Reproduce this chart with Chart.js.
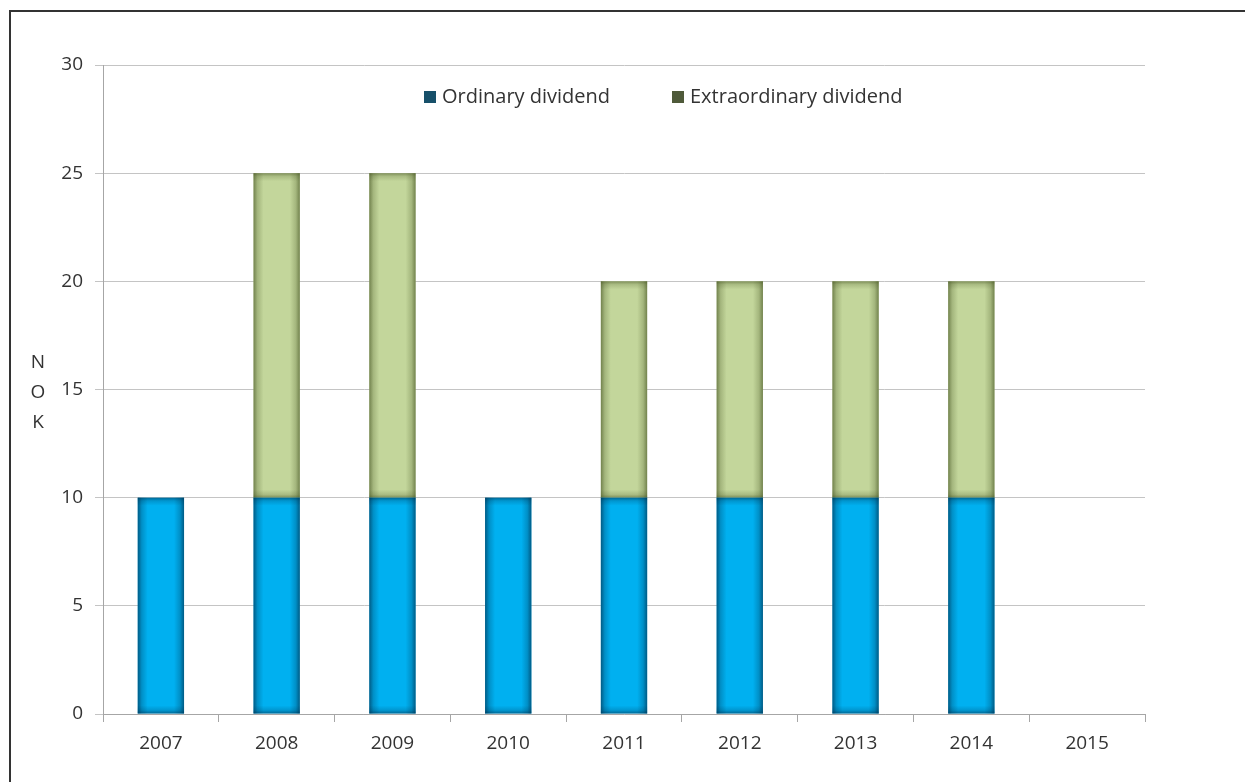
<!DOCTYPE html>
<html>
<head>
<meta charset="utf-8">
<script src="https://cdn.jsdelivr.net/npm/chart.js@4.4.1/dist/chart.umd.min.js"></script>
<style>
  html, body { margin: 0; padding: 0; background: #fff; overflow: hidden; }
  #wrap { position: relative; width: 1245px; height: 782px; }
  #frame {
    position: absolute; left: 9px; top: 10px; width: 1400px; height: 900px;
    border-left: 2px solid #333; border-top: 2px solid #333;
  }
  #chart { position: absolute; left: 0; top: 0; }
</style>
</head>
<body>
<div id="wrap">
  <div id="frame"></div>
  <canvas id="chart" width="1245" height="782"></canvas>
</div>
<script>
const years = ["2007", "2008", "2009", "2010", "2011", "2012", "2013", "2014", "2015"];
const ordinaryDividend = [10, 10, 10, 10, 10, 10, 10, 10, null];
const extraordinaryDividend = [null, 15, 15, null, 10, 10, 10, 10, null];
const yTicks = [0, 5, 10, 15, 20, 25, 30];
const seriesLabels = ["Ordinary dividend", "Extraordinary dividend"];

const barColors = ["#00b0f0", "#c3d69b"];
const edgeColors = ["rgba(0,45,75,", "rgba(70,85,35,"];
const legendColors = ["#17506a", "#4f5a3a"];
const textColor = "#333333";
const fontFamily = "'Open Sans', 'Noto Sans', sans-serif";

// darker edges on every bar, like the Excel inner shadow
const bevelPlugin = {
  id: "bevel",
  afterDatasetDraw(chart, args) {
    const ctx = chart.ctx;
    const edge = edgeColors[args.index];
    args.meta.data.forEach((bar) => {
      const p = bar.getProps(["x", "y", "base", "width"], true);
      const left = p.x - p.width / 2;
      const right = p.x + p.width / 2;
      const top = Math.min(p.y, p.base);
      const bottom = Math.max(p.y, p.base);
      if (bottom - top < 1 || isNaN(top)) return;
      const d = 10;
      ctx.save();
      let g = ctx.createLinearGradient(left, 0, left + d, 0);
      g.addColorStop(0, edge + "0.65)");
      g.addColorStop(0.4, edge + "0.25)");
      g.addColorStop(1, edge + "0)");
      ctx.fillStyle = g;
      ctx.fillRect(left, top, d, bottom - top);
      g = ctx.createLinearGradient(right, 0, right - d, 0);
      g.addColorStop(0, edge + "0.65)");
      g.addColorStop(0.4, edge + "0.25)");
      g.addColorStop(1, edge + "0)");
      ctx.fillStyle = g;
      ctx.fillRect(right - d, top, d, bottom - top);
      const dv = 8;
      g = ctx.createLinearGradient(0, top, 0, top + dv);
      g.addColorStop(0, edge + "0.55)");
      g.addColorStop(0.4, edge + "0.2)");
      g.addColorStop(1, edge + "0)");
      ctx.fillStyle = g;
      ctx.fillRect(left, top, p.width, dv);
      g = ctx.createLinearGradient(0, bottom, 0, bottom - dv);
      g.addColorStop(0, edge + "0.55)");
      g.addColorStop(0.4, edge + "0.2)");
      g.addColorStop(1, edge + "0)");
      ctx.fillStyle = g;
      ctx.fillRect(left, bottom - dv, p.width, dv);
      ctx.restore();
    });
  },
};

// legend inside the plot + stacked "N O K" axis title
const extrasPlugin = {
  id: "extras",
  afterDraw(chart) {
    const ctx = chart.ctx;
    const area = chart.chartArea;
    ctx.save();
    ctx.font = "20px " + fontFamily;
    ctx.textBaseline = "middle";
    ctx.textAlign = "left";
    const legendY = area.top + 32;
    const itemX = [area.left + 321, area.left + 569];
    chart.data.datasets.forEach((ds, i) => {
      ctx.fillStyle = legendColors[i];
      ctx.fillRect(itemX[i], legendY - 6, 12, 12);
      ctx.fillStyle = textColor;
      ctx.fillText(ds.label, itemX[i] + 18, legendY);
    });
    ctx.font = "19px " + fontFamily;
    ctx.textAlign = "center";
    const mid = (area.top + area.bottom) / 2;
    ["N", "O", "K"].forEach((ch, i) => {
      ctx.fillText(ch, 38, mid + 3 + (i - 1) * 30);
    });
    ctx.restore();
  },
};

new Chart(document.getElementById("chart"), {
  type: "bar",
  data: {
    labels: years,
    datasets: [
      {
        label: seriesLabels[0],
        data: ordinaryDividend,
        backgroundColor: barColors[0],
        borderWidth: 0,
      },
      {
        label: seriesLabels[1],
        data: extraordinaryDividend,
        backgroundColor: barColors[1],
        borderWidth: 0,
      },
    ],
  },
  options: {
    responsive: false,
    animation: false,
    devicePixelRatio: 1,
    layout: { padding: { left: 0, top: 65, right: 100, bottom: 0 } },
    plugins: {
      legend: { display: false },
      tooltip: { enabled: false },
    },
    datasets: {
      bar: { categoryPercentage: 1, barPercentage: 0.4 },
    },
    scales: {
      x: {
        stacked: true,
        offset: true,
        grid: {
          offset: true,
          drawOnChartArea: false,
          drawTicks: true,
          tickLength: 8,
          color: "#a6a6a6",
        },
        border: { color: "#a6a6a6" },
        ticks: {
          color: textColor,
          padding: 10,
          maxRotation: 0,
          font: { family: fontFamily, size: 19 },
        },
        afterFit(scale) {
          scale.height = 68;
        },
      },
      y: {
        stacked: true,
        min: 0,
        max: 30,
        afterBuildTicks(scale) {
          scale.ticks = yTicks.map((v) => ({ value: v }));
        },
        grid: {
          color: "#c4c4c4",
          tickLength: 8,
        },
        border: { color: "#a6a6a6" },
        ticks: {
          color: textColor,
          padding: 12,
          font: { family: fontFamily, size: 19 },
        },
        afterFit(scale) {
          scale.width = 103;
        },
      },
    },
  },
  plugins: [bevelPlugin, extrasPlugin],
});
</script>
</body>
</html>
